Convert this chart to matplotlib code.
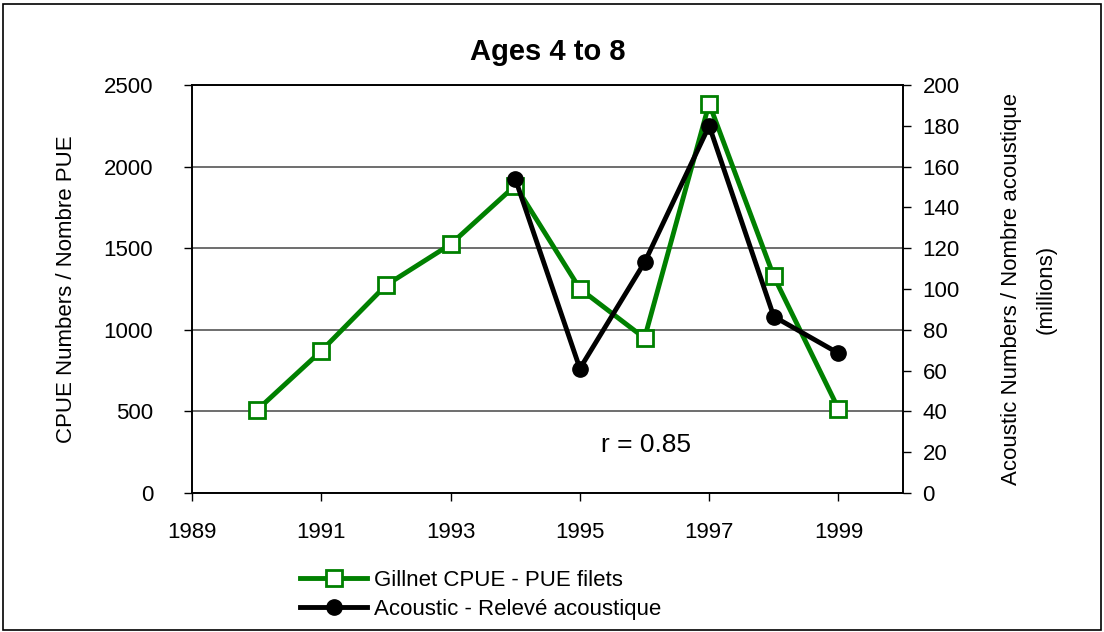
import matplotlib.pyplot as plt
from matplotlib.lines import Line2D
from matplotlib.patches import Rectangle

plt.rcParams['font.family'] = ['Liberation Sans', 'DejaVu Sans']

years_cpue = [1990, 1991, 1992, 1993, 1994, 1995, 1996, 1997, 1998, 1999]
cpue = [506, 871, 1273, 1524, 1884, 1251, 949, 2386, 1327, 516]

years_acoustic = [1994, 1995, 1996, 1997, 1998, 1999]
acoustic = [154, 61, 113, 180, 86.5, 68.5]

x_ticks = [1989, 1991, 1993, 1995, 1997, 1999]
left_ticks = [0, 500, 1000, 1500, 2000, 2500]
right_ticks = list(range(0, 201, 20))

green = '#008000'

fig = plt.figure(figsize=(11.04, 6.32), dpi=100)
fig.patches.append(Rectangle((0.003, 0.003), 0.994, 0.99, transform=fig.transFigure,
                             fill=False, edgecolor='black', linewidth=1.2))

ax = fig.add_axes([0.174, 0.22, 0.644, 0.6455])
ax2 = ax.twinx()

ax.plot(years_cpue, cpue, color=green, linewidth=3.5, marker='s', markersize=11,
        markerfacecolor='white', markeredgecolor=green, markeredgewidth=2,
        label='Gillnet CPUE - PUE filets')
ax2.plot(years_acoustic, acoustic, color='black', linewidth=3.5, marker='o',
         markersize=11, label='Acoustic - Relevé acoustique')

ax.set_xlim(1989, 2000)
ax.set_ylim(0, 2500)
ax2.set_ylim(0, 200)
ax.set_xticks(x_ticks)
ax.set_yticks(left_ticks)
ax2.set_yticks(right_ticks)
ax.grid(axis='y', color='#555555', linewidth=1.2)
ax.set_axisbelow(True)

for a in (ax, ax2):
    a.tick_params(labelsize=16, length=6, width=1, direction='out')
    for s in a.spines.values():
        s.set_linewidth(1.2)
ax.tick_params(axis='y', pad=22)
ax.tick_params(axis='x', pad=15)
ax2.tick_params(axis='y', pad=8)

ax.set_ylabel('CPUE Numbers / Nombre PUE', fontsize=16, labelpad=19)
ax2.set_ylabel('Acoustic Numbers / Nombre acoustique\n(millions)', fontsize=16,
               rotation=90, labelpad=30, linespacing=1.8)

ax.set_title('Ages 4 to 8', fontsize=21, fontweight='bold', pad=18)
ax.text(1995.33, 250, 'r = 0.85', fontsize=19)

handles = [
    Line2D([], [], color=green, linewidth=3.5, marker='s', markersize=11,
           markerfacecolor='white', markeredgecolor=green, markeredgewidth=2),
    Line2D([], [], color='black', linewidth=3.5, marker='o', markersize=11),
]
labels = ['Gillnet CPUE - PUE filets', 'Acoustic - Relevé acoustique']
fig.legend(handles, labels, loc='lower left', bbox_to_anchor=(0.258, -0.005),
           frameon=False, fontsize=16, handlelength=3.0, handletextpad=0.3,
           labelspacing=0.35, borderaxespad=0.3)

fig.savefig('out.png', dpi=100)
